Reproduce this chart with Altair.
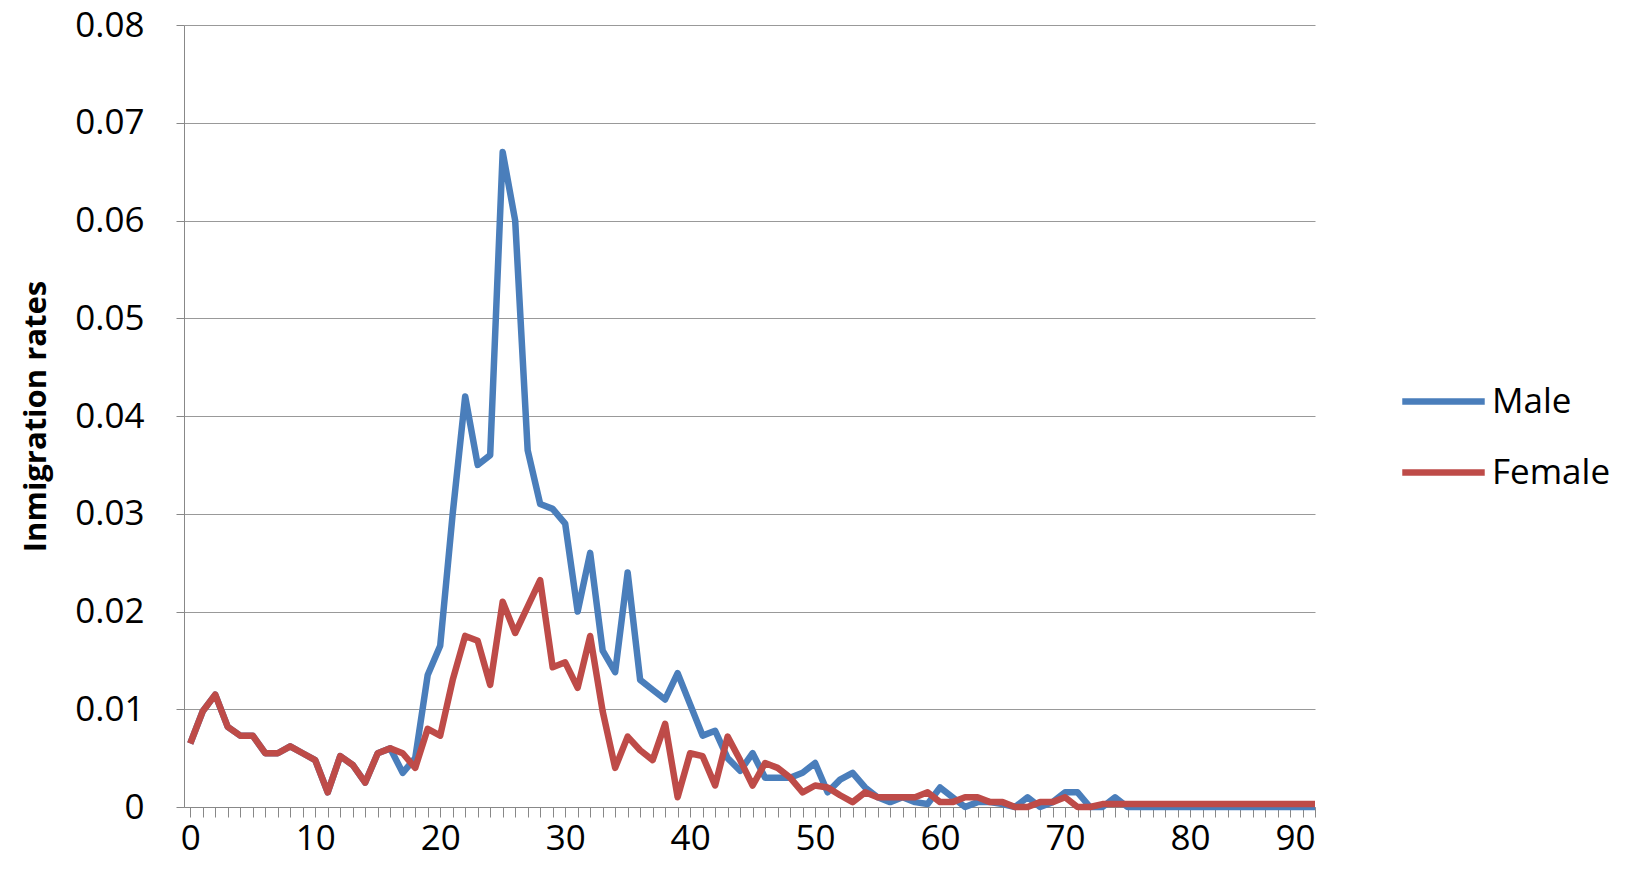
import altair as alt
import pandas as pd

ages = list(range(91))
male = [0.0065, 0.0098, 0.0115, 0.0082, 0.0073, 0.0073, 0.0055, 0.0055, 0.0062, 0.0055,
        0.0048, 0.0015, 0.0052, 0.0043, 0.0025, 0.0055, 0.006, 0.0035, 0.005, 0.0135,
        0.0165, 0.03, 0.042, 0.035, 0.036, 0.067, 0.060, 0.0365, 0.031, 0.0305,
        0.029, 0.020, 0.026, 0.016, 0.0138, 0.024, 0.013, 0.012, 0.011, 0.0137,
        0.0105, 0.0073, 0.0078, 0.005, 0.0037, 0.0055, 0.003, 0.003, 0.003, 0.0035,
        0.0045, 0.0015, 0.0028, 0.0035, 0.002, 0.001, 0.0005, 0.001, 0.0005, 0.0003,
        0.002, 0.001, 0.0, 0.0005, 0.0005, 0.0003, 0.0, 0.001, 0.0, 0.0005,
        0.0015, 0.0015, 0.0, 0.0, 0.001] + [0.0] * 16
female = [0.0065, 0.0098, 0.0115, 0.0082, 0.0073, 0.0073, 0.0055, 0.0055, 0.0062, 0.0055,
          0.0048, 0.0015, 0.0052, 0.0043, 0.0025, 0.0055, 0.006, 0.0055, 0.004, 0.008,
          0.0073, 0.013, 0.0175, 0.017, 0.0125, 0.021, 0.0178, 0.0205, 0.0232, 0.0143,
          0.0148, 0.0122, 0.0175, 0.0098, 0.004, 0.0072, 0.0058, 0.0048, 0.0085, 0.001,
          0.0055, 0.0052, 0.0022, 0.0072, 0.0048, 0.0022, 0.0045, 0.004, 0.003, 0.0015,
          0.0022, 0.002, 0.0012, 0.0005, 0.0015, 0.001, 0.001, 0.001, 0.001, 0.0015,
          0.0005, 0.0005, 0.001, 0.001, 0.0005, 0.0005, 0.0, 0.0, 0.0005, 0.0005,
          0.001, 0.0, 0.0, 0.0003, 0.0003] + [0.0003] * 16

df = pd.concat([
    pd.DataFrame({"age": ages, "rate": male, "sex": "Male"}),
    pd.DataFrame({"age": ages, "rate": female, "sex": "Female"}),
])

chart = alt.Chart(df).mark_line(strokeWidth=6.5, strokeJoin="round").encode(
    x=alt.X("age:Q", title=None,
            scale=alt.Scale(domain=[-0.5, 90], nice=False, zero=False),
            axis=alt.Axis(values=ages, labelExpr="datum.value % 10 == 0 ? datum.label : ''",
                          grid=False, tickSize=10, tickColor="#888", domainColor="#888",
                          labelFontSize=35, labelColor="#000", labelPadding=4,
                          labelFont="Open Sans")),
    y=alt.Y("rate:Q", title="Inmigration rates",
            scale=alt.Scale(domain=[0, 0.08], nice=False),
            axis=alt.Axis(values=[0, 0.01, 0.02, 0.03, 0.04, 0.05, 0.06, 0.07, 0.08],
                          format="~g", tickSize=8, tickColor="#888", domainColor="#888",
                          gridColor="#999", labelFontSize=35, labelColor="#000",
                          labelFont="Open Sans", labelPadding=32,
                          titleFontSize=31, titleFont="Open Sans", titleFontWeight="bold",
                          titleColor="#000", titlePadding=22)),
    color=alt.Color("sex:N", sort=["Male", "Female"],
                    scale=alt.Scale(domain=["Male", "Female"], range=["#4a7ebb", "#be4b48"]),
                    legend=alt.Legend(title=None, orient="none", legendX=1215, legendY=332,
                                      symbolType="stroke", symbolStrokeWidth=6.5, symbolSize=6800,
                                      labelFontSize=35, labelFont="Open Sans", labelColor="#000",
                                      rowPadding=8)),
).properties(width=1131, height=782, padding={"left": 12, "top": 0, "right": 5, "bottom": 5}
).configure_view(stroke=None)

chart.save("out.html", embed_options={"renderer": "svg", "actions": False})
